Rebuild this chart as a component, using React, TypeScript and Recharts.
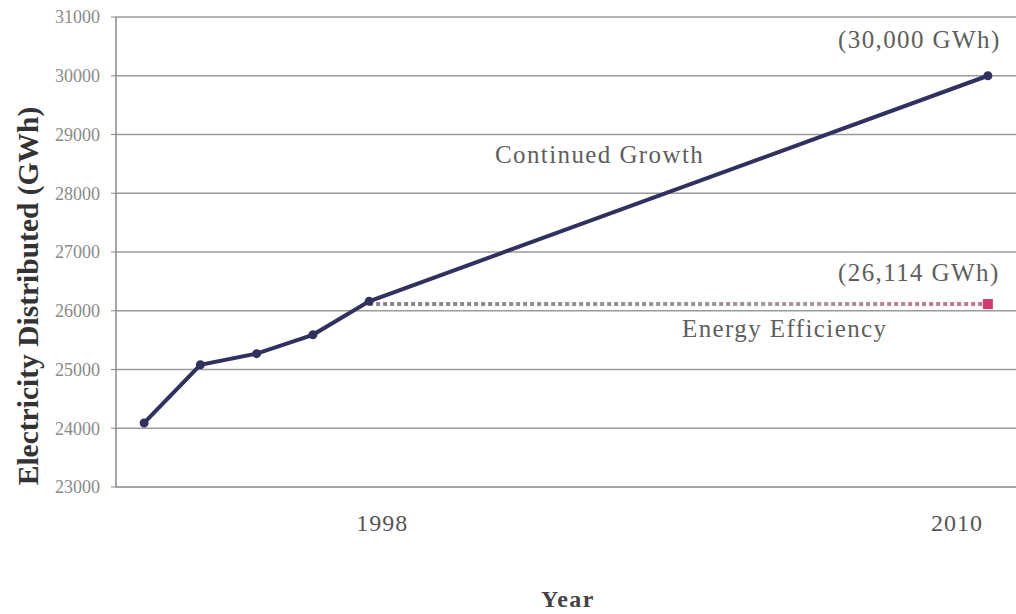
import React from 'react';
import { LineChart, Line, XAxis, YAxis, CartesianGrid } from 'recharts';

// Category slot on the time axis (16 slots, first point in slot 0, 2010 in slot 15)
const growthPos = [0, 1, 2, 3, 4, 15];
const growthVals = [24090, 25080, 25270, 25590, 26160, 30000];

const efficiencyPos = [4, 15];
const efficiencyVals = [26114, 26114];

const yTicks = [23000, 24000, 25000, 26000, 27000, 28000, 29000, 30000, 31000];
const xTickPos = [4, 15];
const xTickLabels = ['1998', '2010'];

const growthData = growthPos.map((p, i) => ({ pos: p, value: growthVals[i] }));
const efficiencyData = efficiencyPos.map((p, i) => ({ pos: p, value: efficiencyVals[i] }));

const SERIF = '"Liberation Serif", "Times New Roman", serif';
const tickOffsets: Record<number, number> = { 4: 13, 15: -31 };

const XTick = (props: any) => {
  const { x, y, payload } = props;
  const idx = xTickPos.indexOf(payload.value);
  if (idx < 0) return null;
  return (
    <text
      x={x + (tickOffsets[payload.value] || 0)}
      y={y + 44}
      textAnchor="middle"
      fontFamily={SERIF}
      fontSize={24}
      letterSpacing={1}
      fill="#555"
    >
      {xTickLabels[idx]}
    </text>
  );
};

const EffDot = (props: any) => {
  const { cx, cy, index } = props;
  if (index !== efficiencyData.length - 1) return <g key={`d${index}`} />;
  return <rect key={`d${index}`} x={cx - 5} y={cy - 5} width={10} height={10} fill="#d23c6c" />;
};

const annoStyle = {
  fontFamily: SERIF,
  fontSize: 25,
  letterSpacing: 1.4,
  fill: '#5e5e5e',
} as const;

export default function App() {
  return (
    <div style={{ position: 'absolute', left: 0, top: 0, width: 1016, height: 614, background: '#fff' }}>
      <LineChart width={1016} height={614} margin={{ top: 17, right: 0, bottom: 0, left: 0 }}>
        <defs>
          <linearGradient id="effGrad" gradientUnits="userSpaceOnUse" x1="370" y1="0" x2="990" y2="0">
            <stop offset="0%" stopColor="#8a8290" />
            <stop offset="70%" stopColor="#a4969e" />
            <stop offset="100%" stopColor="#c9708f" />
          </linearGradient>
        </defs>
        <CartesianGrid horizontal vertical={false} stroke="#9a9a9a" strokeWidth={1.3} />
        <XAxis
          dataKey="pos"
          type="number"
          domain={[-0.5, 15.5]}
          ticks={xTickPos}
          interval={0}
          height={127}
          tickSize={0}
          tickMargin={0}
          tickLine={false}
          axisLine={{ stroke: '#a0a0a0', strokeWidth: 1.5 }}
          tick={<XTick />}
        />
        <YAxis
          type="number"
          domain={[23000, 31000]}
          ticks={yTicks}
          interval={0}
          width={116}
          tickSize={5}
          tickMargin={11}
          axisLine={{ stroke: '#888', strokeWidth: 1.5 }}
          tickLine={{ stroke: '#888' }}
          tick={{ fontFamily: SERIF, fontSize: 18, fill: '#8a8a8a' }}
        />
        <Line
          data={efficiencyData}
          dataKey="value"
          stroke="url(#effGrad)"
          strokeWidth={4}
          strokeDasharray="4 3"
          dot={<EffDot />}
          activeDot={false}
          isAnimationActive={false}
        />
        <Line
          data={growthData}
          dataKey="value"
          stroke="#32305e"
          strokeWidth={4}
          dot={{ r: 2.5, fill: '#32305e', stroke: '#32305e' }}
          activeDot={false}
          isAnimationActive={false}
        />
        <text x={495} y={163} style={annoStyle}>Continued Growth</text>
        <text x={838} y={48} style={annoStyle}>(30,000 GWh)</text>
        <text x={838} y={281} style={annoStyle}>(26,114 GWh)</text>
        <text x={682} y={337} style={annoStyle}>Energy Efficiency</text>
        <text
          x={568}
          y={607}
          textAnchor="middle"
          fontFamily={SERIF}
          fontSize={24}
          fontWeight="bold"
          letterSpacing={1.5}
          fill="#444"
        >
          Year
        </text>
        <text
          x={38}
          y={296}
          textAnchor="middle"
          transform="rotate(-90, 38, 296)"
          fontFamily={SERIF}
          fontSize={29.5}
          fontWeight="bold"
          fill="#333"
        >
          Electricity Distributed (GWh)
        </text>
      </LineChart>
    </div>
  );
}
